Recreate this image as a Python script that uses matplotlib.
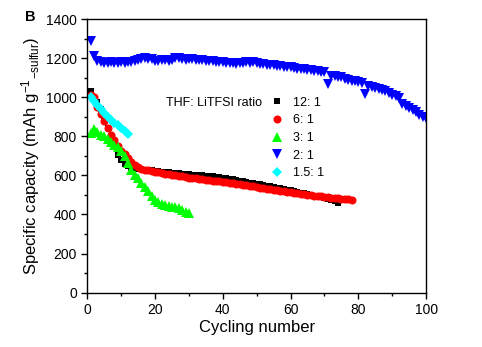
import numpy as np
import matplotlib
matplotlib.use("Agg")
import matplotlib.pyplot as plt
from matplotlib.ticker import MultipleLocator

plt.rcParams['font.family'] = ['Liberation Sans', 'DejaVu Sans']
plt.rcParams['mathtext.fontset'] = 'custom'
plt.rcParams['mathtext.rm'] = 'Liberation Sans'
plt.rcParams['mathtext.it'] = 'Liberation Sans'

# THF: LiTFSI 12:1
cap_12 = [1035, 1000, 975, 940, 890, 845, 790, 745, 705, 680,
          660, 648, 640, 636, 633, 631, 629, 628, 626, 624,
          622, 620, 618, 617, 615, 613, 612, 610, 609, 607,
          605, 604, 602, 600, 598, 597, 595, 593, 591, 589,
          586, 583, 580, 577, 574, 571, 567, 564, 561, 557,
          554, 551, 548, 545, 541, 538, 535, 531, 528, 524,
          520, 516, 512, 508, 504, 500, 496, 492, 488, 483,
          478, 473, 467, 461]

# 6:1
cap_6 = [1015, 1000, 950, 915, 880, 845, 810, 780, 750, 728,
         708, 688, 668, 652, 642, 635, 630, 626, 622, 619,
         616, 613, 610, 607, 604, 601, 598, 595, 592, 589,
         587, 585, 583, 580, 578, 576, 574, 572, 570, 568,
         565, 563, 560, 557, 555, 552, 550, 547, 544, 541,
         538, 535, 533, 530, 527, 525, 522, 519, 517, 514,
         511, 509, 506, 504, 501, 499, 497, 495, 493, 491,
         489, 487, 485, 483, 481, 479, 477, 475]

# 3:1
cap_3 = [820, 840, 825, 810, 800, 785, 770, 755, 745, 725,
         700, 665, 630, 605, 585, 560, 540, 520, 495, 475,
         465, 455, 450, 445, 440, 438, 432, 425, 415, 410]

# 2:1
cap_2 = [1290, 1210, 1185, 1180, 1178, 1178, 1180, 1178, 1178, 1180,
         1178, 1180, 1182, 1185, 1190, 1198, 1200, 1198, 1195, 1185,
         1188, 1190, 1190, 1188, 1192, 1200, 1202, 1198, 1190, 1195,
         1195, 1192, 1190, 1190, 1188, 1186, 1185, 1184, 1182, 1180,
         1178, 1176, 1175, 1170, 1176, 1178, 1180, 1178, 1180, 1178,
         1172, 1170, 1168, 1166, 1164, 1162, 1160, 1158, 1156, 1154,
         1150, 1148, 1146, 1144, 1142, 1140, 1137, 1134, 1131, 1128,
         1070, 1112, 1110, 1107, 1104, 1095, 1090, 1085, 1082, 1078,
         1072, 1020, 1060, 1055, 1050, 1045, 1040, 1034, 1025, 1015,
         1005, 995, 965, 958, 945, 935, 925, 912, 902, 893]

# 1.5:1
cap_15 = [1000, 980, 960, 940, 920, 900, 885, 870, 860, 845, 830, 815]

series = [
    ("12: 1", cap_12, 's', '#000000', 4.5),
    ("6: 1", cap_6, 'o', '#ff0000', 5.8),
    ("3: 1", cap_3, '^', '#00ff00', 6.6),
    ("2: 1", cap_2, 'v', '#0000ff', 6.6),
    ("1.5: 1", cap_15, 'D', '#00ffff', 4.8),
]

fig = plt.figure(figsize=(4.82, 3.47), dpi=100)
ax = fig.add_axes([0.181, 0.157, 0.703, 0.787])

for label, vals, mk, col, ms in series:
    cyc = np.arange(1, len(vals) + 1)
    ax.plot(cyc, vals, linestyle='none', marker=mk, color=col,
            markersize=ms, markeredgewidth=0, label=label)

ax.set_xlim(0, 100)
ax.set_ylim(0, 1400)
ax.xaxis.set_major_locator(MultipleLocator(20))
ax.xaxis.set_minor_locator(MultipleLocator(10))
ax.yaxis.set_major_locator(MultipleLocator(200))
ax.yaxis.set_minor_locator(MultipleLocator(100))
ax.tick_params(which='both', direction='out', labelsize=10, width=1)
ax.tick_params(which='major', length=4)
ax.tick_params(which='minor', length=2.5)
for sp in ax.spines.values():
    sp.set_linewidth(1)

ax.set_xlabel("Cycling number", fontsize=12, labelpad=2)
ax.set_ylabel(r"Specific capacity (mAh g$^{-1}$$_{-sulfur}$)", fontsize=12,
              labelpad=3)

ax.text(0.232, 0.695, "THF: LiTFSI ratio", transform=ax.transAxes,
        fontsize=9, va='center')
ax.legend(loc='upper left', bbox_to_anchor=(0.52, 0.74), frameon=False,
          fontsize=9, handletextpad=0.7, labelspacing=0.45,
          borderpad=0, handlelength=1.2)

fig.text(25 / 482, 1 - 17 / 347, "B", fontsize=10.5, fontweight='bold',
         ha='left', va='center')

fig.savefig("out.png", dpi=100)
